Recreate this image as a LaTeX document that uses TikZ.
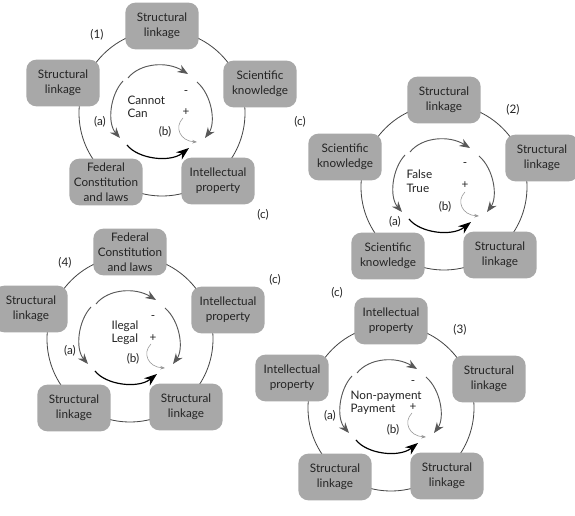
\documentclass[tikz,border=0pt]{standalone}
\usepackage{fontspec}
\setmainfont{Lato}
\usetikzlibrary{arrows.meta}
\usepackage{xcolor}
\definecolor{boxgray}{RGB}{168,168,168}
\definecolor{arcgray}{RGB}{88,88,88}
\definecolor{txtgray}{RGB}{35,35,35}
\definecolor{thingray}{RGB}{150,150,150}

\newcommand{\innerarrows}{%
  \draw[flow] (-34,-35) .. controls (-22,-50) and (5,-52) .. (26,-39);
  \draw[flow] (-39,-32) .. controls (-52,-18) and (-55,10) .. (-42,25);
  \draw[flow] (35,-31) .. controls (50,-18) and (54,10) .. (43,25);
  \draw[flowmain] (-35,32) .. controls (-24,46) and (8,50) .. (27,35);
  \draw[flowthin] (21,5) .. controls (12,14) and (18,28) .. (35,29);
}

\begin{document}
\begin{tikzpicture}[x=0.03cm, y=-0.03cm, line width=0.7pt,
    font=\fontsize{10}{12.6}\selectfont,
    box/.style={rectangle, rounded corners=3mm, fill=boxgray, text=txtgray,
      align=center, minimum width=2.2cm, minimum height=1.4cm, inner sep=1pt},
    lab/.style={text=txtgray, inner sep=1pt},
    flow/.style={draw=arcgray, line width=0.8pt, -{Stealth[length=9pt, width=7pt]}},
    flowmain/.style={draw=black, line width=1pt, -{Stealth[length=11pt, width=8pt]}},
    flowthin/.style={draw=thingray, line width=0.5pt, -{Stealth[length=4pt, width=3pt]}}]
  \clip (0,0) rectangle (575,516);
  \useasboundingbox (0,0) rectangle (575,516);

  \begin{scope}[shift={(162,113)}]
    \draw[arcgray!80!black] (0,0) circle (83);
    \node[box] (top1) at (0,-87) {Structural\\linkage};
    \node[box] (left1) at (-99,-30) {Structural\\linkage};
    \node[box] (right1) at (98,-29) {Scientific\\knowledge};
    \node[box] (bl1) at (-56,69) {Federal\\Constitution\\and laws};
    \node[box] (br1) at (56,68) {Intellectual\\property};
    \innerarrows
    \node[lab] (num1) at (-65,-78) {(1)};
    \node[lab] (a1) at (-62,9) {(a)};
    \node[lab] (b1) at (3,19) {(b)};
    \node[lab] (c1) at (101,102) {(c)};
    \node[lab, anchor=west] (up1) at (-36,-13) {Cannot};
    \node[lab, anchor=west] (dn1) at (-36,0) {Can};
    \node[lab] (minus1) at (24,-20) {-};
    \node[lab] (plus1) at (24,-1) {+};
  \end{scope}

  \begin{scope}[shift={(444,187)}]
    \draw[arcgray!80!black] (0,0) circle (83);
    \node[box] (top2) at (0,-87) {Structural\\linkage};
    \node[box] (left2) at (-99,-30) {Scientific\\knowledge};
    \node[box] (right2) at (98,-29) {Structural\\linkage};
    \node[box] (bl2) at (-56,69) {Scientific\\knowledge};
    \node[box] (br2) at (56,68) {Structural\\linkage};
    \innerarrows
    \node[lab] (num2) at (69,-77) {(2)};
    \node[lab] (a2) at (-49,35) {(a)};
    \node[lab] (b2) at (1,20) {(b)};
    \node[lab] (c2) at (-144,-65) {(c)};
    \node[lab, anchor=west] (up2) at (-39,-13) {False};
    \node[lab, anchor=west] (dn2) at (-39,1) {True};
    \node[lab] (minus2) at (21,-22) {-};
    \node[lab] (plus2) at (21,-2) {+};
  \end{scope}

  \begin{scope}[shift={(391,408)}]
    \draw[arcgray!80!black] (0,0) circle (83);
    \node[box] (top3) at (0,-87) {Intellectual\\property};
    \node[box] (left3) at (-99,-30) {Intellectual\\property};
    \node[box] (right3) at (98,-29) {Structural\\linkage};
    \node[box] (bl3) at (-56,69) {Structural\\linkage};
    \node[box] (br3) at (56,68) {Structural\\linkage};
    \innerarrows
    \node[lab] (num3) at (69,-78) {(3)};
    \node[lab] (a3) at (-61,8) {(a)};
    \node[lab] (b3) at (2,22) {(b)};
    \node[lab] (c3) at (-54,-115) {(c)};
    \node[lab, anchor=west] (up3) at (-42,-12) {Non-payment};
    \node[lab, anchor=west] (dn3) at (-42,1) {Payment};
    \node[lab] (minus3) at (22,-25) {-};
    \node[lab] (plus3) at (22,-1) {+};
  \end{scope}

  \begin{scope}[shift={(130,339)}]
    \draw[arcgray!80!black] (0,0) circle (83);
    \node[box] (top4) at (0,-87) {Federal\\Constitution\\and laws};
    \node[box] (left4) at (-99,-30) {Structural\\linkage};
    \node[box] (right4) at (98,-29) {Intellectual\\property};
    \node[box] (bl4) at (-56,69) {Structural\\linkage};
    \node[box] (br4) at (56,68) {Structural\\linkage};
    \innerarrows
    \node[lab] (num4) at (-65,-76) {(4)};
    \node[lab] (a4) at (-60,12) {(a)};
    \node[lab] (b4) at (3,20) {(b)};
    \node[lab] (c4) at (145,-59) {(c)};
    \node[lab, anchor=west] (up4) at (-20,-13) {Ilegal};
    \node[lab, anchor=west] (dn4) at (-20,0) {Legal};
    \node[lab] (minus4) at (23,-21) {-};
    \node[lab] (plus4) at (23,-1) {+};
  \end{scope}
\end{tikzpicture}
\end{document}
